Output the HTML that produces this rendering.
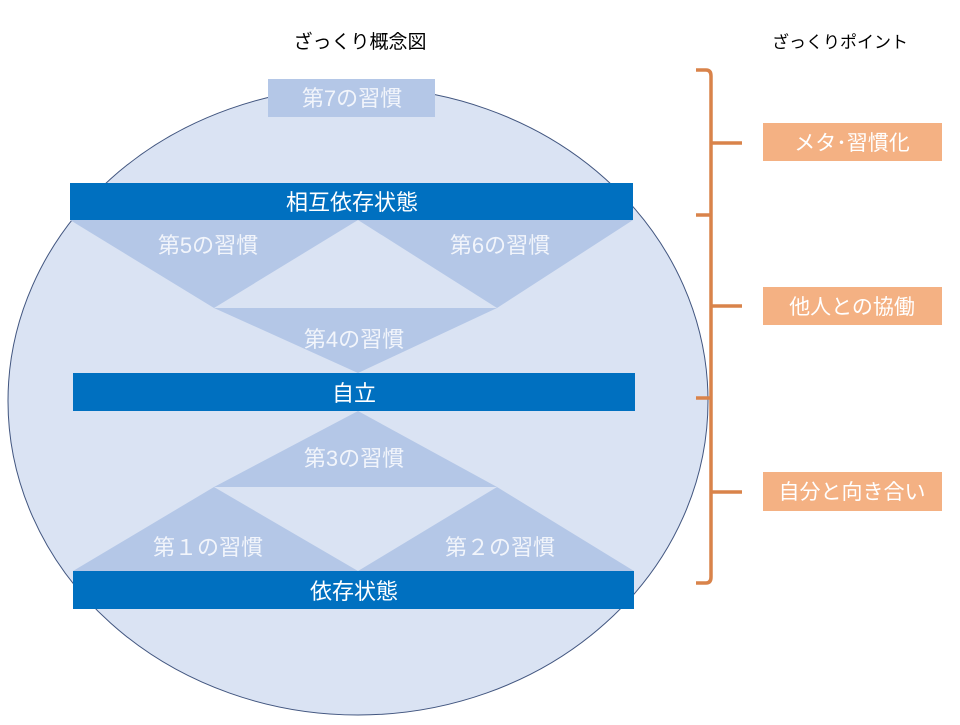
<!DOCTYPE html>
<html><head><meta charset="utf-8"><style>
body{margin:0;background:#fff;}
svg text{font-family:"Liberation Sans","Noto Sans CJK JP",sans-serif;}
</style></head><body>
<svg width="960" height="720" viewBox="0 0 960 720" xmlns="http://www.w3.org/2000/svg">
<rect width="960" height="720" fill="#fff"/>
<text x="360" y="48" font-size="19" text-anchor="middle" fill="#000">ざっくり概念図</text>
<text x="840" y="48" font-size="17" text-anchor="middle" fill="#000">ざっくりポイント</text>
<ellipse cx="358" cy="401" rx="350" ry="314" fill="#dae3f3" stroke="#41557f" stroke-width="1"/>
<g fill="#b4c7e7">
<polygon points="70,220 358,220 214,308"/>
<polygon points="358,220 633,220 497,308"/>
<polygon points="214,308 497,308 358,373"/>
<polygon points="358,411 497,487 214,487"/>
<polygon points="214,487 358,571 73,571"/>
<polygon points="497,487 634,571 358,571"/>
</g>
<rect x="268" y="79" width="167" height="38" fill="#b4c7e7"/>
<rect x="70" y="183" width="563" height="37" fill="#0070c0"/>
<rect x="73" y="373" width="562" height="38" fill="#0070c0"/>
<rect x="73" y="571" width="561" height="38" fill="#0070c0"/>
<g font-size="22" text-anchor="middle" fill="#fff">
<text x="352" y="106" fill="#f2f5fb">第7の習慣</text>
<text x="352" y="210">相互依存状態</text>
<text x="208" y="253" fill="#f2f5fb">第5の習慣</text>
<text x="500" y="253" fill="#f2f5fb">第6の習慣</text>
<text x="354" y="347" fill="#f2f5fb">第4の習慣</text>
<text x="354" y="401">自立</text>
<text x="354" y="466" fill="#f2f5fb">第3の習慣</text>
<text x="208" y="555" fill="#f2f5fb">第１の習慣</text>
<text x="500" y="555" fill="#f2f5fb">第２の習慣</text>
<text x="354" y="599">依存状態</text>
</g>
<g fill="none" stroke="#d9834a" stroke-width="3.5">
<path d="M696,70 L706,70 Q711,70 711,76 L711,577 Q711,583 706,583 L696,583"/>
<path d="M696,215 L711,215 M696,398 L711,398"/>
<path d="M711,143 L742,143 M711,306 L742,306 M711,492 L742,492"/>
</g>
<g fill="#f4b183">
<rect x="763" y="123" width="179" height="38"/>
<rect x="763" y="287" width="179" height="38"/>
<rect x="763" y="472" width="179" height="39"/>
</g>
<g font-size="21" text-anchor="middle" fill="#fff">
<text x="852" y="150">メタ･習慣化</text>
<text x="852" y="314">他人との協働</text>
<text x="852" y="499">自分と向き合い</text>
</g>
</svg>
</body></html>
